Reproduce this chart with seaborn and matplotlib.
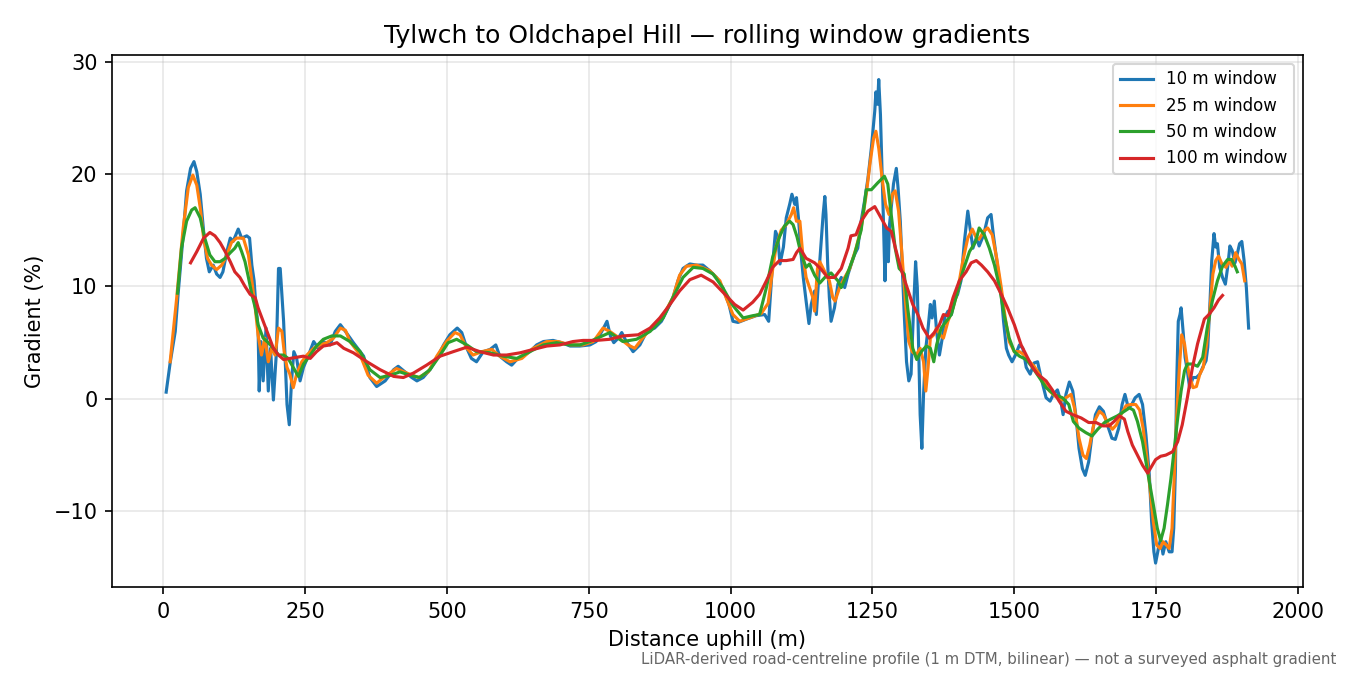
import numpy as np
import matplotlib
matplotlib.use("Agg")
import matplotlib.pyplot as plt
import seaborn as sns
import pandas as pd

# gradient (%), (distance m, gradient) per window size
pts_10 = [(5, 0.6), (12, 3.2), (21, 6.0), (26, 9.3), (35, 14.6), (41, 18.5), (48, 20.5), (54, 21.1), (59, 20.2),
          (65, 18.2), (71, 14.9), (76, 12.5), (81, 11.3), (88, 11.9), (94, 11.1), (100, 10.8), (105, 11.3),
          (112, 13.1), (118, 14.3), (123, 14.0), (132, 15.1), (138, 14.3), (147, 14.5), (152, 14.3), (156, 11.9),
          (160, 10.5), (163, 8.4), (167, 6.3), (169, 0.7), (172, 5.1), (176, 1.6), (181, 6.3), (185, 0.7),
          (189, 4.5), (194, -0.1), (199, 3.9), (203, 11.6), (206, 11.6), (209, 9.3), (212, 6.9), (215, 3.3),
          (218, -0.5), (222, -2.3), (226, 1.6), (230, 4.2), (235, 3.6), (241, 1.6), (247, 2.8), (256, 3.9),
          (265, 5.1), (273, 4.5), (282, 5.1), (294, 4.8), (303, 6.0), (312, 6.6), (321, 6.0), (335, 5.0),
          (353, 3.8), (364, 1.9), (376, 1.1), (391, 1.6), (406, 2.6), (414, 2.9), (426, 2.4), (438, 1.9),
          (447, 1.6), (458, 1.9), (470, 2.6), (482, 3.6), (494, 4.8), (505, 5.7), (518, 6.3), (526, 5.9),
          (535, 4.5), (543, 3.6), (552, 3.3), (564, 4.2), (576, 4.4), (586, 4.8), (593, 3.8), (605, 3.3),
          (614, 3.0), (623, 3.5), (634, 3.8), (646, 4.2), (658, 4.8), (670, 5.1), (687, 5.2), (702, 5.0),
          (717, 4.7), (734, 4.7), (752, 4.8), (763, 5.1), (775, 6.2), (782, 6.9), (788, 5.6), (794, 5.0),
          (802, 5.4), (808, 5.9), (816, 5.1), (828, 4.2), (840, 4.8), (852, 6.0), (866, 6.3), (878, 6.9),
          (890, 8.1), (898, 8.9), (907, 10.5), (916, 11.6), (928, 12.0), (940, 11.9), (951, 11.9), (963, 11.4),
          (975, 10.8), (986, 9.9), (997, 8.4), (1004, 6.9), (1013, 6.8), (1028, 7.1), (1045, 7.4), (1060, 7.5),
          (1067, 6.9), (1073, 11.4), (1079, 14.9), (1083, 14.4), (1087, 12.0), (1093, 13.5), (1098, 16.1),
          (1104, 17.3), (1108, 18.2), (1113, 17.3), (1116, 17.9), (1120, 15.8), (1124, 12.9), (1128, 10.8),
          (1133, 8.7), (1138, 6.7), (1142, 8.4), (1148, 9.6), (1151, 7.5), (1157, 12.2), (1163, 16.4),
          (1166, 18.0), (1168, 16.4), (1171, 12.0), (1174, 9.0), (1177, 6.9), (1183, 8.1), (1189, 10.2),
          (1195, 10.8), (1201, 9.9), (1207, 11.1), (1212, 11.9), (1218, 12.8), (1224, 13.4), (1230, 15.8),
          (1236, 17.6), (1242, 19.6), (1248, 22.3), (1254, 25.6), (1256, 27.3), (1259, 26.2), (1261, 28.4),
          (1264, 25.3), (1267, 19.9), (1269, 16.4), (1272, 10.5), (1275, 15.2), (1278, 12.2), (1280, 15.5),
          (1283, 17.0), (1287, 19.1), (1292, 20.5), (1295, 18.8), (1299, 15.8), (1302, 12.2), (1306, 7.5),
          (1310, 3.3), (1314, 1.6), (1318, 2.2), (1322, 7.5), (1326, 12.2), (1329, 9.9), (1332, 3.3),
          (1334, -1.4), (1337, -4.4), (1340, 0.4), (1344, 4.5), (1348, 6.3), (1352, 8.4), (1355, 7.2),
          (1359, 8.7), (1363, 6.0), (1368, 3.9), (1373, 5.4), (1377, 7.2), (1383, 7.8), (1389, 7.5),
          (1394, 8.7), (1400, 9.3), (1406, 10.5), (1412, 14.0), (1418, 16.7), (1422, 15.2), (1427, 13.4),
          (1433, 14.3), (1438, 13.6), (1446, 14.6), (1453, 16.1), (1459, 16.4), (1463, 14.6), (1471, 11.6),
          (1477, 9.3), (1481, 6.9), (1486, 4.5), (1490, 3.9), (1496, 3.3), (1502, 3.9), (1509, 4.8),
          (1515, 4.5), (1521, 2.8), (1528, 2.2), (1535, 3.2), (1541, 3.3), (1547, 1.9), (1556, 0.1),
          (1563, -0.2), (1569, 0.4), (1576, 0.8), (1582, -0.2), (1586, -1.4), (1591, 0.4), (1597, 1.5),
          (1603, 0.7), (1609, -1.7), (1614, -4.4), (1620, -6.2), (1625, -6.8), (1631, -5.6), (1637, -3.2),
          (1643, -1.4), (1650, -0.7), (1657, -1.1), (1664, -2.3), (1672, -3.5), (1678, -3.6), (1684, -2.6),
          (1690, -0.5), (1695, 0.4), (1701, -0.8), (1707, -0.5), (1713, 0.1), (1720, 0.4), (1726, -0.5),
          (1732, -3.2), (1738, -6.8), (1742, -10.9), (1746, -13.6), (1749, -14.6), (1754, -13.3),
          (1758, -12.4), (1762, -13.8), (1767, -12.7), (1773, -13.6), (1778, -13.6), (1781, -11.5),
          (1784, -6.2), (1786, 1.0), (1789, 6.9), (1792, 7.5), (1794, 8.1), (1798, 5.7), (1801, 3.7),
          (1805, 2.5), (1809, 1.0), (1815, 1.9), (1821, 1.9), (1827, 2.2), (1832, 2.8), (1838, 3.4),
          (1841, 4.6), (1845, 8.7), (1848, 12.3), (1852, 14.7), (1855, 13.5), (1858, 13.8), (1862, 11.7),
          (1867, 10.8), (1872, 10.2), (1876, 11.7), (1880, 13.6), (1884, 13.2), (1889, 12.1), (1893, 12.9),
          (1897, 13.8), (1901, 14.0), (1905, 12.3), (1909, 9.9), (1913, 6.3)]

pts_25 = [(12, 3.3), (23, 8.7), (35, 15.2), (44, 18.8), (52, 19.9), (59, 19.0), (65, 17.0), (71, 14.3),
          (78, 12.5), (85, 11.9), (94, 11.5), (103, 11.9), (112, 12.8), (120, 13.9), (129, 14.3), (141, 14.3),
          (150, 12.8), (156, 10.5), (162, 8.1), (167, 5.7), (173, 3.9), (179, 5.4), (185, 3.3), (191, 4.5),
          (197, 3.9), (203, 6.3), (209, 6.0), (213, 4.2), (218, 2.8), (223, 2.2), (229, 1.0), (235, 2.2),
          (244, 3.3), (253, 3.9), (265, 4.5), (276, 4.8), (288, 5.0), (300, 5.4), (312, 6.3), (321, 6.1),
          (329, 5.1), (347, 3.9), (361, 2.1), (376, 1.4), (391, 2.0), (411, 2.7), (429, 2.3), (450, 1.9),
          (467, 2.4), (482, 3.8), (499, 5.1), (514, 5.9), (523, 5.7), (535, 4.5), (546, 3.9), (561, 4.2),
          (579, 4.4), (593, 3.8), (611, 3.3), (632, 3.6), (652, 4.5), (676, 5.1), (696, 5.1), (717, 4.8),
          (740, 4.8), (758, 5.1), (775, 6.3), (787, 6.0), (804, 5.4), (819, 4.8), (831, 4.5), (843, 5.3),
          (860, 6.3), (881, 7.4), (898, 9.0), (910, 11.0), (922, 11.8), (940, 11.9), (963, 11.4), (981, 10.5),
          (992, 9.0), (1004, 7.5), (1016, 6.9), (1033, 7.2), (1054, 7.6), (1066, 8.5), (1074, 11.5),
          (1080, 13.5), (1089, 15.0), (1098, 15.5), (1107, 16.4), (1111, 17.0), (1116, 15.8), (1122, 15.8),
          (1127, 12.9), (1133, 10.8), (1139, 9.9), (1145, 9.0), (1148, 7.8), (1153, 11.6), (1157, 12.2),
          (1166, 11.3), (1174, 10.5), (1180, 9.0), (1184, 8.7), (1192, 9.9), (1201, 10.8), (1210, 11.6),
          (1221, 13.4), (1230, 15.2), (1239, 18.2), (1246, 21.1), (1252, 23.2), (1256, 23.8),
          (1261, 22.3), (1267, 19.6), (1273, 17.3), (1279, 16.4), (1285, 18.2), (1290, 18.5), (1296, 16.7),
          (1302, 12.8), (1308, 8.7), (1314, 5.1), (1320, 4.2), (1327, 3.9), (1334, 4.5), (1340, 3.3),
          (1344, 0.7), (1348, 2.8), (1352, 5.4), (1358, 5.7), (1363, 6.3), (1369, 5.7), (1375, 5.4),
          (1383, 6.9), (1392, 8.1), (1400, 9.6), (1409, 12.2), (1418, 14.3), (1426, 15.1), (1433, 14.3),
          (1438, 14.2), (1446, 14.9), (1453, 15.2), (1461, 14.6), (1469, 12.5), (1477, 9.9), (1484, 7.2),
          (1491, 5.1), (1500, 4.2), (1509, 4.2), (1518, 3.9), (1527, 3.3), (1535, 2.9), (1544, 2.2),
          (1550, 1.6), (1562, 0.7), (1573, 0.2), (1585, -0.1), (1594, 0.2), (1600, 0.4), (1606, -0.8),
          (1614, -3.5), (1621, -5.0), (1627, -5.3), (1633, -4.1), (1641, -2.0), (1650, -1.1), (1657, -1.4),
          (1664, -2.1), (1673, -2.7), (1680, -2.3), (1688, -1.4), (1697, -0.6), (1705, -0.5), (1714, -0.5),
          (1721, -1.0), (1727, -2.6), (1733, -5.0), (1739, -7.9), (1745, -10.9), (1751, -13.0), (1757, -13.3),
          (1762, -12.7), (1768, -13.0), (1773, -13.3), (1778, -11.5), (1782, -6.8), (1786, -1.7), (1791, 2.8),
          (1795, 5.7), (1800, 4.9), (1804, 3.4), (1808, 2.2), (1815, 1.0), (1821, 1.1), (1827, 2.2),
          (1833, 2.8), (1839, 4.9), (1845, 8.1), (1850, 11.1), (1855, 12.3), (1860, 12.7), (1866, 12.0),
          (1873, 11.7), (1879, 12.3), (1884, 11.8), (1890, 13.0), (1896, 12.4), (1901, 12.0), (1906, 10.5)]

pts_50 = [(25, 9.4), (32, 13.4), (41, 15.8), (50, 16.8), (56, 17.0), (65, 16.1), (73, 14.3), (82, 12.8),
          (91, 12.2), (100, 12.2), (109, 12.5), (118, 13.0), (126, 13.4), (132, 13.9), (138, 13.1), (144, 12.2),
          (150, 10.8), (156, 9.3), (162, 8.1), (167, 6.6), (176, 5.4), (185, 5.0), (194, 4.5), (203, 3.9),
          (212, 3.9), (220, 3.6), (229, 2.8), (238, 2.0), (247, 3.1), (259, 3.9), (270, 4.7), (282, 5.3),
          (297, 5.6), (312, 5.6), (329, 5.1), (347, 4.2), (364, 2.6), (382, 1.9), (400, 2.1), (417, 2.4),
          (435, 2.1), (452, 1.9), (470, 2.6), (488, 3.9), (502, 5.0), (517, 5.3), (535, 4.8), (552, 4.2),
          (576, 4.1), (599, 3.8), (623, 3.6), (646, 4.2), (670, 4.8), (693, 5.0), (717, 4.8), (734, 4.8),
          (752, 5.1), (787, 5.9), (810, 5.1), (834, 5.3), (858, 6.0), (881, 7.2), (898, 9.0), (916, 10.8),
          (934, 11.7), (951, 11.6), (969, 11.1), (986, 9.9), (1004, 8.3), (1022, 7.2), (1039, 7.4),
          (1051, 7.5), (1063, 9.9), (1074, 12.6), (1086, 14.4), (1095, 15.4), (1104, 15.8), (1110, 15.5),
          (1117, 14.4), (1124, 12.9), (1133, 11.7), (1139, 12.0), (1148, 11.0), (1157, 10.3), (1166, 10.8),
          (1177, 11.2), (1189, 10.5), (1195, 9.9), (1207, 11.3), (1218, 12.8), (1230, 15.0), (1239, 18.6),
          (1248, 18.6), (1259, 19.2), (1271, 19.8), (1277, 19.1), (1283, 16.4), (1290, 13.4), (1297, 11.6),
          (1306, 11.1), (1312, 8.1), (1321, 4.5), (1328, 3.5), (1336, 4.2), (1345, 4.7), (1352, 4.5),
          (1358, 3.3), (1363, 4.8), (1371, 6.3), (1380, 6.9), (1389, 7.5), (1397, 9.0), (1409, 11.3),
          (1421, 13.1), (1432, 14.0), (1438, 15.2), (1447, 14.6), (1456, 13.4), (1465, 11.9), (1474, 9.9),
          (1482, 7.5), (1491, 5.4), (1500, 4.2), (1509, 3.8), (1521, 3.5), (1532, 2.8), (1544, 1.9),
          (1556, 1.0), (1570, 0.4), (1585, 0.1), (1596, -0.5), (1604, -2.0), (1614, -2.6), (1626, -3.0),
          (1637, -3.3), (1647, -2.7), (1659, -2.1), (1670, -1.8), (1682, -1.5), (1694, -1.1), (1703, -0.8),
          (1710, -1.0), (1717, -2.0), (1726, -3.8), (1735, -6.5), (1744, -9.1), (1752, -11.5), (1758, -12.6),
          (1764, -11.5), (1770, -9.4), (1776, -7.1), (1782, -4.4), (1788, -1.7), (1794, 0.7), (1800, 2.5),
          (1805, 3.1), (1814, 3.1), (1823, 2.9), (1832, 3.7), (1840, 6.3), (1849, 8.7), (1858, 10.5),
          (1867, 11.8), (1876, 12.4), (1883, 12.4), (1889, 11.8), (1893, 11.3)]

pts_100 = [(48, 12.1), (59, 13.1), (71, 14.3), (82, 14.8), (91, 14.5), (100, 13.9), (109, 13.1), (118, 12.2),
           (126, 11.3), (135, 10.8), (144, 10.0), (153, 9.3), (162, 9.0), (167, 8.1), (176, 6.9), (185, 5.7),
           (194, 4.5), (203, 3.9), (212, 3.5), (223, 3.6), (235, 3.7), (247, 3.8), (259, 3.6), (270, 4.2),
           (282, 4.7), (294, 4.8), (306, 5.0), (318, 4.5), (335, 4.1), (359, 3.3), (382, 2.6), (406, 2.0),
           (423, 1.9), (441, 2.3), (464, 3.0), (488, 3.8), (511, 4.2), (535, 4.6), (558, 4.2), (582, 3.9),
           (605, 3.9), (629, 4.1), (652, 4.4), (676, 4.7), (699, 4.8), (722, 5.1), (740, 5.2), (763, 5.2),
           (787, 5.3), (810, 5.6), (837, 5.7), (858, 6.3), (875, 7.2), (893, 8.4), (910, 9.6), (928, 10.6),
           (948, 11.0), (969, 10.4), (990, 9.3), (1007, 8.4), (1022, 7.9), (1039, 8.6), (1051, 9.3),
           (1063, 10.5), (1074, 11.7), (1086, 12.3), (1098, 12.3), (1110, 12.4), (1116, 13.0), (1122, 13.4),
           (1133, 12.5), (1148, 12.1), (1160, 11.5), (1171, 10.8), (1183, 10.8), (1195, 11.6), (1207, 13.4),
           (1212, 14.5), (1221, 14.6), (1230, 15.8), (1242, 16.7), (1254, 17.1), (1265, 16.1), (1275, 15.2),
           (1283, 14.9), (1292, 13.1), (1300, 11.6), (1309, 10.2), (1321, 8.4), (1330, 7.5), (1339, 6.3),
           (1350, 5.4), (1359, 5.9), (1368, 6.6), (1375, 7.5), (1383, 7.4), (1392, 9.0), (1403, 10.5),
           (1415, 11.3), (1424, 12.1), (1433, 12.3), (1442, 11.9), (1453, 11.3), (1465, 10.5), (1477, 9.3),
           (1488, 8.1), (1500, 6.6), (1512, 4.8), (1524, 3.6), (1532, 2.8), (1541, 2.2), (1556, 1.6),
           (1567, 0.8), (1579, -0.2), (1591, -1.1), (1603, -1.4), (1618, -1.7), (1631, -2.1), (1644, -2.1),
           (1656, -2.4), (1667, -2.4), (1676, -2.0), (1685, -1.5), (1694, -1.8), (1700, -2.9), (1708, -4.1),
           (1717, -5.0), (1726, -5.9), (1735, -6.6), (1742, -6.0), (1749, -5.4), (1758, -5.1), (1767, -5.0),
           (1779, -4.7), (1788, -3.8), (1796, -2.3), (1805, 0.1), (1814, 2.8), (1823, 4.9), (1829, 6.0),
           (1835, 7.1), (1843, 7.5), (1852, 8.1), (1860, 8.8), (1867, 9.2)]

labels = ["10 m window", "25 m window", "50 m window", "100 m window"]
colours = ["#1f77b4", "#ff7f0e", "#2ca02c", "#d62728"]

fig, ax = plt.subplots(figsize=(9, 4.5), dpi=150)

for pts, lab, col in zip([pts_10, pts_25, pts_50, pts_100], labels, colours):
    d = pd.DataFrame(pts, columns=["dist", "grad"])
    sns.lineplot(data=d, x="dist", y="grad", ax=ax, color=col, label=lab,
                 linewidth=1.5, estimator=None, sort=False)

ax.set_title("Tylwch to Oldchapel Hill \u2014 rolling window gradients", fontsize=12)
ax.set_xlabel("Distance uphill (m)", fontsize=10)
ax.set_ylabel("Gradient (%)", fontsize=10)
ax.grid(True, alpha=0.3)
ax.legend(loc="upper right", fontsize=8)

fig.text(0.99, 0.012, "LiDAR-derived road-centreline profile (1 m DTM, bilinear) \u2014 not a surveyed asphalt gradient",
         ha="right", va="bottom", fontsize=7.2, color="#666666")

plt.subplots_adjust(left=0.083, right=0.965, top=0.918, bottom=0.13)
plt.savefig("out.png", dpi=150)
